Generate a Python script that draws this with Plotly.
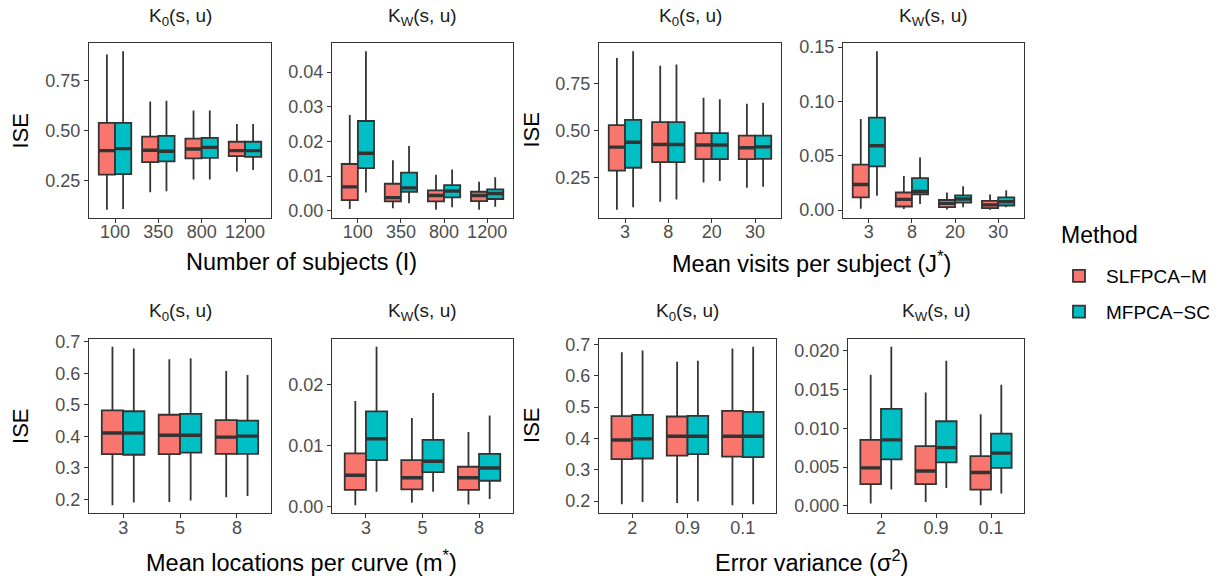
import plotly.graph_objects as go

# ---------------- data (lower whisker, Q1, median, Q3, upper whisker) ----------------
I_levels = ["100", "350", "800", "1200"]
J_levels = ["3", "8", "20", "30"]
m_levels = ["3", "5", "8"]
s_levels = ["2", "0.9", "0.1"]

K0_I_SLF = [(0.106, 0.281, 0.401, 0.539, 0.880), (0.193, 0.344, 0.403, 0.471, 0.646),
            (0.257, 0.362, 0.409, 0.461, 0.601), (0.297, 0.373, 0.401, 0.445, 0.534)]
K0_I_MF = [(0.110, 0.284, 0.411, 0.539, 0.896), (0.198, 0.347, 0.398, 0.474, 0.649),
           (0.257, 0.365, 0.417, 0.464, 0.601), (0.304, 0.370, 0.401, 0.445, 0.534)]
KW_I_SLF = [(0.0005, 0.0031, 0.0069, 0.0135, 0.0276), (0.0007, 0.0027, 0.0038, 0.0078, 0.0146),
            (0.0003, 0.0027, 0.0044, 0.0059, 0.0104), (0.0003, 0.0028, 0.0044, 0.0055, 0.0084)]
KW_I_MF = [(0.0053, 0.0123, 0.0166, 0.0259, 0.0460), (0.0022, 0.0055, 0.0066, 0.0110, 0.0187),
           (0.0010, 0.0039, 0.0057, 0.0074, 0.0119), (0.0012, 0.0034, 0.0050, 0.0062, 0.0097)]

K0_J_SLF = [(0.077, 0.286, 0.411, 0.528, 0.887), (0.120, 0.331, 0.425, 0.544, 0.845),
            (0.223, 0.347, 0.422, 0.486, 0.674), (0.195, 0.347, 0.408, 0.472, 0.643)]
K0_J_MF = [(0.091, 0.301, 0.437, 0.556, 0.922), (0.132, 0.331, 0.425, 0.544, 0.852),
           (0.230, 0.347, 0.422, 0.486, 0.667), (0.200, 0.348, 0.413, 0.472, 0.648)]
KW_J_SLF = [(0.0012, 0.0117, 0.0235, 0.0418, 0.0839), (0.0009, 0.0033, 0.0099, 0.0162, 0.0313),
            (0.0006, 0.0027, 0.0062, 0.0093, 0.0162), (0.0003, 0.0018, 0.0048, 0.0084, 0.0144)]
KW_J_MF = [(0.0132, 0.0403, 0.0592, 0.0851, 0.1461), (0.0057, 0.0144, 0.0171, 0.0295, 0.0484),
           (0.0027, 0.0069, 0.0102, 0.0135, 0.0219), (0.0027, 0.0042, 0.0078, 0.0117, 0.0183)]

K0_m_SLF = [(0.182, 0.344, 0.411, 0.483, 0.685), (0.192, 0.344, 0.404, 0.469, 0.645),
            (0.207, 0.345, 0.398, 0.452, 0.608)]
K0_m_MF = [(0.190, 0.342, 0.411, 0.480, 0.679), (0.197, 0.349, 0.404, 0.472, 0.648),
           (0.211, 0.345, 0.401, 0.450, 0.595)]
KW_m_SLF = [(0.0002, 0.0027, 0.0051, 0.0087, 0.0173), (0.0006, 0.0028, 0.0047, 0.0076, 0.0145),
            (0.0003, 0.0027, 0.0047, 0.0065, 0.0122)]
KW_m_MF = [(0.0024, 0.0076, 0.0111, 0.0156, 0.0262), (0.0024, 0.0056, 0.0074, 0.0109, 0.0186),
           (0.0012, 0.0042, 0.0063, 0.0086, 0.0149)]

K0_s_SLF = [(0.190, 0.334, 0.395, 0.471, 0.675), (0.194, 0.345, 0.407, 0.470, 0.645),
            (0.187, 0.342, 0.407, 0.488, 0.687)]
K0_s_MF = [(0.197, 0.336, 0.399, 0.475, 0.681), (0.199, 0.350, 0.407, 0.472, 0.648),
           (0.190, 0.340, 0.407, 0.485, 0.693)]
KW_s_SLF = [(0.0003, 0.0028, 0.0049, 0.0085, 0.0169), (0.0005, 0.0028, 0.0045, 0.0077, 0.0146),
            (0.0001, 0.0021, 0.0043, 0.0064, 0.0118)]
KW_s_MF = [(0.0021, 0.0060, 0.0085, 0.0125, 0.0205), (0.0023, 0.0056, 0.0075, 0.0109, 0.0187),
           (0.0016, 0.0049, 0.0068, 0.0093, 0.0156)]

methods = ["SLFPCA\u2212M", "MFPCA\u2212SC"]
colors = ["#F8766D", "#00BFC4"]
K0_title = "K<sub>0</sub>(s, u)"
KW_title = "K<sub>W</sub>(s, u)"

W, H = 1223, 583
LINE = "#333333"
FONT = "Liberation Sans, Arial"

# panel pixel boxes (left, right, top, bottom)
panels = [
    dict(cats=I_levels, data=(K0_I_SLF, K0_I_MF), title=K0_title, dtick=0.25, fmt=".2f", box=(89, 271, 38, 215)),
    dict(cats=I_levels, data=(KW_I_SLF, KW_I_MF), title=KW_title, dtick=0.01, fmt=".2f", box=(332, 513, 38, 215)),
    dict(cats=J_levels, data=(K0_J_SLF, K0_J_MF), title=K0_title, dtick=0.25, fmt=".2f", box=(599, 781, 38, 215)),
    dict(cats=J_levels, data=(KW_J_SLF, KW_J_MF), title=KW_title, dtick=0.05, fmt=".2f", box=(843, 1024, 38, 215)),
    dict(cats=m_levels, data=(K0_m_SLF, K0_m_MF), title=K0_title, dtick=0.1, fmt=".1f", box=(89, 271, 338, 515)),
    dict(cats=m_levels, data=(KW_m_SLF, KW_m_MF), title=KW_title, dtick=0.01, fmt=".2f", box=(332, 513, 338, 515)),
    dict(cats=s_levels, data=(K0_s_SLF, K0_s_MF), title=K0_title, dtick=0.1, fmt=".1f", box=(599, 776, 338, 515)),
    dict(cats=s_levels, data=(KW_s_SLF, KW_s_MF), title=KW_title, dtick=0.005, fmt=".3f", box=(848, 1024, 338, 515)),
]

fig = go.Figure()
BOXW = 0.375
annotations = []

for i, p in enumerate(panels):
    n = len(p["cats"])
    ax = "" if i == 0 else str(i + 1)
    xref, yref = "x" + ax, "y" + ax
    lo_all, hi_all = [], []
    for j, (stats, name, col) in enumerate(zip(p["data"], methods, colors)):
        off = (j - 0.5) * BOXW
        pos = [k + 1 + off for k in range(n)]
        lo = [s[0] for s in stats]
        q1 = [s[1] for s in stats]
        med = [s[2] for s in stats]
        q3 = [s[3] for s in stats]
        hi = [s[4] for s in stats]
        lo_all += lo
        hi_all += hi
        fig.add_trace(go.Box(
            x=pos, lowerfence=lo, q1=q1, median=med, q3=q3, upperfence=hi,
            orientation="v", width=BOXW, whiskerwidth=0, boxpoints=False,
            fillcolor=col, line=dict(color=LINE, width=1.8),
            name=name, legendgroup=name, showlegend=(i == 0),
            xaxis=xref, yaxis=yref, hoverinfo="y"))
        mx, my = [], []
        for pp, m in zip(pos, med):
            mx += [pp - BOXW / 2, pp + BOXW / 2, None]
            my += [m, m, None]
        fig.add_trace(go.Scatter(x=mx, y=my, mode="lines", line=dict(color=LINE, width=3.4),
                                 showlegend=False, hoverinfo="skip", xaxis=xref, yaxis=yref))
    lo_, hi_ = min(lo_all), max(hi_all)
    pad = 0.05 * (hi_ - lo_)
    l, r, t, b = p["box"]
    xd = [l / W, r / W]
    yd = [1 - b / H, 1 - t / H]
    common = dict(showline=True, mirror=True, linecolor=LINE, linewidth=1.2,
                  showgrid=False, zeroline=False, ticks="outside", ticklen=4,
                  tickwidth=1.1, tickcolor=LINE,
                  tickfont=dict(family=FONT, size=18, color="#4D4D4D"))
    fig.layout["xaxis" + ax] = dict(domain=xd, range=[0.4, n + 0.6], tickmode="array",
                                    tickvals=list(range(1, n + 1)), ticktext=p["cats"],
                                    anchor=yref, ticklabelstandoff=-6, **common)
    fig.layout["yaxis" + ax] = dict(domain=yd, range=[lo_ - pad, hi_ + pad], tick0=0,
                                    dtick=p["dtick"], tickformat=p["fmt"], anchor=xref, **common)
    annotations.append(dict(text=p["title"], x=(xd[0] + xd[1]) / 2, y=1 - (t - 27) / H,
                            xref="paper", yref="paper", showarrow=False, xanchor="center",
                            yanchor="middle", font=dict(family=FONT, size=19, color="#1A1A1A")))

# axis titles
xtitles = [
    ("Number of subjects (I)", (89 + 513) / 2, 260),
    ("Mean visits per subject (J<sup>*</sup>)", (599 + 1024) / 2, 260),
    ("Mean locations per curve (m<sup>*</sup>)", (89 + 513) / 2, 564),
    ("Error variance (\u03c3<sup>2</sup>)", (599 + 1024) / 2, 564),
]
for txt, xc, yc in xtitles:
    annotations.append(dict(text=txt, x=xc / W, y=1 - yc / H, xref="paper", yref="paper",
                            showarrow=False, xanchor="center", yanchor="middle",
                            font=dict(family=FONT, size=23.5, color="black")))
for xc, yc in [(21, 126.5), (532, 126.5), (21, 426.5), (532, 426.5)]:
    annotations.append(dict(text="ISE", x=xc / W, y=1 - yc / H, xref="paper", yref="paper",
                            showarrow=False, xanchor="center", yanchor="middle", textangle=-90,
                            font=dict(family=FONT, size=22, color="black")))
# legend title
annotations.append(dict(text="Method", x=1059 / W, y=1 - 233 / H, xref="paper", yref="paper",
                        showarrow=False, xanchor="left", yanchor="middle",
                        font=dict(family=FONT, size=23, color="black")))

fig.update_layout(
    width=W, height=H, margin=dict(l=0, r=0, t=0, b=0),
    paper_bgcolor="white", plot_bgcolor="white",
    font=dict(family=FONT, color="black"),
    annotations=annotations,
    legend=dict(x=1052 / W, y=1 - 255 / H, xanchor="left", yanchor="top", itemwidth=44,
                font=dict(family=FONT, size=19, color="black"), tracegroupgap=8,
                bgcolor="rgba(0,0,0,0)"),
)

fig.write_html("out.html")
